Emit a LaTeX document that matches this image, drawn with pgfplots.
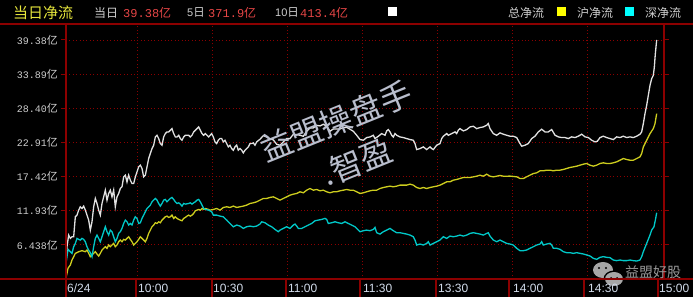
\documentclass[border=0pt]{standalone}
\usepackage{fontspec}
\setmainfont{Liberation Sans}
\newfontfamily\cjk{Noto Sans CJK SC}
\newfontfamily\mono{Liberation Mono}
\usepackage{pgfplots}
\pgfplotsset{compat=1.18}
\definecolor{gridred}{RGB}{140,0,0}
\definecolor{lwhite}{RGB}{225,225,225}
\definecolor{lyellow}{RGB}{205,205,30}
\definecolor{lcyan}{RGB}{0,200,200}
\definecolor{sqyellow}{RGB}{255,255,0}
\definecolor{sqcyan}{RGB}{0,255,255}
\definecolor{valred}{RGB}{230,70,70}
\definecolor{hdryellow}{RGB}{230,230,60}
\definecolor{txtgray}{RGB}{205,205,205}
\definecolor{wmgray}{RGB}{185,190,205}
\definecolor{xlab}{RGB}{210,220,235}
\newcommand\yl[1]{{\fontsize{10}{10}\selectfont\mono #1}{\fontsize{11}{11}\selectfont\cjk 亿}}
\newcommand\hv[1]{{\fontsize{12}{12}\selectfont\mono #1}{\fontsize{12}{12}\selectfont\cjk 亿}}
\begin{document}
\begin{tikzpicture}[x=1pt,y=1pt]
\fill[black] (0,0) rectangle (693,297);
\useasboundingbox (0,0) rectangle (693,297);
\clip (0,0) rectangle (693,297);
% wechat icon (behind labels)
\fill[gray!70] (603,27) ellipse (10 and 8);
\fill[black] (614,18) ellipse (10.5 and 8.5);
\fill[gray!70] (614,18) ellipse (9 and 7);
\fill[black] (599,29) circle (1.2); \fill[black] (606,29) circle (1.2);
\fill[black] (611,19) circle (1); \fill[black] (617,19) circle (1);
\begin{axis}[
  at={(66pt,18pt)}, anchor=south west, width=598pt, height=255pt, scale only axis,
  xmin=1.6, xmax=240.8, ymin=0.948, ymax=41.95,
  axis line style={draw=none},
  no marks,
  xtick={1.6,30,60,90,120,150,180,210},
  xticklabels={6/24,10:00,10:30,11:00,11:30,13:30,14:00,14:30},
  extra x ticks={238.4}, extra x tick labels={15:00}, extra x tick style={grid=none},
  ytick={6.438,11.93,17.42,22.91,28.40,33.89,39.38},
  yticklabels={\yl{6.438},\yl{11.93},\yl{17.42},\yl{22.91},\yl{28.40},\yl{33.89},\yl{39.38}},
  grid=major,
  major grid style={draw=gridred, line width=0.9pt, dash pattern=on 1pt off 2.4pt},
  xtick style={draw=none},
  ytick style={draw=gridred, line width=1pt},
  tick align=outside, major tick length=5pt,
  xticklabel style={anchor=west, xshift=1pt, yshift=-4pt, font=\fontsize{12}{12}\selectfont, text=xlab, inner sep=0pt},
  yticklabel style={anchor=east, inner sep=0pt, xshift=-3pt, text=txtgray},
]
\addplot[lyellow, line width=1.3pt] coordinates {
(1.6,1.10) (2.4,2.66) (3.33,3.20) (4.0,4.00) (4.67,4.53) (5.33,5.07) (6.67,5.34) (8.0,5.50) (9.33,5.34) (10.0,5.60) (10.67,5.07) (11.33,4.53) (12.0,4.80) (12.67,5.07) (13.33,5.34) (14.0,4.96) (14.67,4.64) (15.33,5.07) (16.0,5.60) (16.67,5.87) (17.33,6.14) (18.0,5.87) (18.67,6.41) (19.33,6.14) (20.0,6.41) (20.67,6.67) (21.33,6.14) (22.0,6.41) (22.67,6.94) (23.33,7.21) (24.0,6.94) (24.67,7.32) (25.33,7.21) (26.0,7.48) (26.67,7.74) (27.33,7.32) (28.0,6.94) (28.67,6.41) (29.33,6.67) (30.0,6.94) (30.67,7.32) (31.33,7.74) (32.0,7.48) (32.67,7.21) (33.33,6.94) (34.0,7.48) (34.67,8.28) (35.33,8.81) (36.0,9.35) (36.67,9.62) (37.33,9.99) (38.0,9.88) (38.67,10.15) (39.33,9.99) (40.0,10.42) (40.67,10.69) (41.33,10.95) (42.0,11.06) (42.67,10.85) (43.33,10.95) (44.0,11.22) (44.67,10.69) (45.33,10.95) (46.0,10.69) (46.67,10.53) (47.33,10.42) (48.0,10.31) (48.67,10.69) (49.33,10.85) (50.0,11.06) (50.67,11.22) (51.33,11.06) (52.0,11.22) (52.67,11.49) (53.33,11.92) (54.0,12.02) (54.67,12.13) (55.33,12.02) (56.0,12.29) (56.67,12.13) (57.33,12.29) (58.67,12.13)
(59.2,12.02) (60.53,12.13) (61.87,12.29) (63.2,12.02) (64.53,12.45) (65.87,12.56) (67.2,12.45) (68.53,12.67) (69.87,12.45) (71.2,12.56) (72.53,12.67) (73.87,12.83) (75.2,13.09) (76.53,13.20) (77.87,13.36) (79.2,13.63) (80.53,13.90) (81.87,13.90) (83.2,14.06) (84.53,14.16) (85.87,13.90) (87.2,13.63) (88.53,13.90) (89.87,14.16) (91.2,14.43) (92.53,14.59) (93.87,14.70) (95.2,14.97) (96.53,14.81) (97.87,15.23) (99.2,15.50) (100.53,15.23) (101.87,15.34) (103.2,15.13) (104.53,15.23) (105.87,14.97) (107.2,14.81) (108.53,14.97) (109.87,14.97) (111.2,15.13) (112.53,15.23) (113.87,15.34) (115.2,15.23) (116.53,15.23) (117.87,14.97)
(119.2,14.70) (120.53,14.81) (121.87,14.97) (123.2,15.13) (124.53,15.23) (125.87,15.23) (127.2,15.50) (128.53,15.66) (129.87,15.77) (131.2,15.88) (132.53,15.77) (133.87,15.88) (135.2,16.04) (136.53,16.04) (137.87,16.04) (139.2,16.20) (140.53,16.04) (141.87,15.66) (143.2,15.50) (144.53,15.66) (145.87,15.50) (147.2,15.66) (148.53,15.77) (149.87,15.88) (151.2,16.04) (152.53,16.30) (153.87,16.57) (155.2,16.57) (156.53,16.84) (157.87,16.95) (159.2,17.11) (160.53,17.27) (161.87,17.27) (163.2,17.27) (164.53,17.37) (165.87,17.48) (167.2,17.64) (168.53,17.48) (169.87,17.80) (171.2,17.48) (172.53,17.37) (173.87,17.48) (175.2,17.59) (176.53,17.48) (177.87,17.48)
(179.2,17.49) (181.87,17.38) (183.2,17.11) (184.53,17.11) (185.87,17.38) (187.2,17.65) (188.53,17.91) (189.87,18.02) (191.2,18.34) (192.53,18.34) (193.87,18.45) (195.2,18.45) (196.53,18.34) (197.87,18.45) (199.2,18.45) (200.53,18.56) (201.87,18.72) (203.2,18.88) (204.53,18.98) (205.87,19.09) (207.2,19.25) (208.53,19.41) (209.87,19.52) (211.2,19.25) (212.53,19.09) (213.87,19.25) (215.2,19.52) (216.53,19.63) (217.87,19.52) (219.2,19.52) (220.53,19.63) (221.87,19.79) (223.2,20.05) (224.53,20.32) (225.87,20.16) (227.2,20.05) (228.53,20.05) (229.87,20.32) (231.2,20.59) (231.87,21.12) (232.53,22.19) (233.87,23.26) (235.2,24.33) (236.53,25.14) (237.2,25.94) (237.87,27.54)
};
\addplot[lcyan, line width=1.3pt] coordinates {
(1.6,3.46) (2.0,4.53) (2.4,5.71) (3.33,5.34) (4.0,5.07) (4.67,6.14) (5.33,6.67) (6.0,7.48) (6.67,7.32) (7.33,7.21) (8.0,7.48) (8.67,7.32) (9.33,6.94) (10.0,6.14) (10.67,5.60) (11.33,5.18) (12.0,4.53) (12.67,6.14) (13.33,7.48) (14.0,8.01) (14.67,7.48) (15.33,6.94) (16.0,7.74) (16.67,8.55) (17.33,9.35) (18.0,8.55) (18.67,8.01) (19.33,8.81) (20.0,8.55) (20.67,7.74) (21.33,6.94) (22.0,7.48) (22.67,8.28) (23.33,8.55) (24.0,9.08) (24.67,9.88) (25.33,10.42) (26.0,10.15) (26.67,9.62) (27.33,9.88) (28.0,9.62) (28.67,10.42) (29.33,10.95) (30.0,10.69) (30.67,9.88) (31.33,9.99) (32.0,10.69) (32.67,11.22) (33.33,11.76) (34.0,12.29) (34.67,12.56) (35.33,12.83) (36.0,13.36) (36.67,13.63) (37.33,13.90) (38.0,13.63) (38.67,13.09) (39.33,12.67) (40.0,13.09) (40.67,13.63) (41.33,13.74) (42.0,13.36) (42.67,13.63) (43.33,13.90) (44.0,14.06) (44.67,13.74) (45.33,13.36) (46.0,13.09) (46.67,13.20) (47.33,12.99) (48.0,12.67) (48.67,13.09) (49.33,12.99) (50.67,13.09) (51.33,13.20) (52.0,12.99) (52.67,13.20) (53.33,13.36) (54.0,13.63) (54.67,13.74) (55.33,13.36) (56.0,12.83) (56.67,12.29) (57.33,12.13) (58.67,12.02)
(59.87,11.76) (60.53,11.22) (61.87,11.22) (63.2,11.06) (64.53,10.95) (65.87,10.42) (67.2,9.88) (68.53,9.35) (69.87,9.62) (71.2,9.46) (72.53,9.08) (73.87,9.35) (75.2,9.46) (76.53,9.35) (77.87,9.46) (79.2,9.78) (79.87,10.15) (81.2,9.99) (82.53,9.62) (83.87,9.35) (85.2,8.92) (86.53,8.55) (87.2,8.81) (88.53,9.08) (89.87,9.35) (91.2,9.08) (92.53,9.62) (93.2,9.78) (93.87,9.46) (94.53,9.08) (95.87,9.08) (97.2,9.35) (98.53,9.62) (99.87,9.88) (101.2,10.31) (102.53,10.42) (103.87,10.53) (105.2,10.69) (105.87,10.53) (106.53,9.88) (107.87,9.99) (109.2,10.15) (110.53,9.99) (111.87,9.88) (113.2,10.15) (114.53,9.88) (115.87,9.62) (117.2,9.35) (118.53,8.81)
(119.2,8.55) (120.53,8.71) (121.87,8.81) (123.2,8.71) (124.53,8.92) (125.2,9.24) (125.87,8.39) (127.2,8.17) (128.53,8.55) (129.87,8.81) (131.2,9.08) (132.53,8.71) (133.87,8.39) (135.2,8.39) (136.53,8.28) (137.87,8.17) (139.2,8.01) (140.53,7.74) (141.2,7.21) (141.87,6.41) (143.2,6.57) (144.53,6.41) (145.87,6.67) (146.53,6.94) (147.2,6.41) (148.53,6.67) (149.87,6.94) (151.2,7.21) (152.53,7.74) (153.87,7.48) (155.2,7.85) (156.53,7.74) (157.87,7.85) (159.2,8.01) (160.53,7.85) (161.87,8.01) (163.2,8.28) (164.53,8.39) (165.87,8.28) (167.2,8.17) (168.53,8.01) (169.87,8.28) (170.53,8.39) (171.2,7.85) (172.53,7.21) (173.87,6.94) (175.2,7.21) (176.53,6.94) (177.87,6.67)
(179.2,6.57) (180.53,6.41) (181.87,5.88) (183.2,5.50) (184.53,5.50) (185.87,5.61) (187.2,5.88) (188.53,6.14) (189.87,6.41) (191.2,6.57) (191.87,6.95) (192.53,6.41) (193.87,6.57) (195.2,6.68) (195.87,6.41) (196.53,5.88) (197.87,5.88) (199.2,5.72) (200.53,5.34) (201.87,5.18) (203.2,5.18) (204.53,5.07) (205.87,5.18) (207.2,5.07) (208.53,4.97) (209.87,4.81) (211.2,4.65) (212.53,4.27) (213.87,4.11) (215.2,4.43) (216.53,4.54) (217.87,4.43) (219.2,4.38) (220.53,4.00) (221.87,3.90) (223.2,4.00) (224.53,3.90) (225.87,3.90) (227.2,4.00) (228.53,3.90) (229.87,3.84) (231.2,4.00) (231.87,4.54) (232.53,5.34) (233.87,6.68) (235.2,8.02) (235.87,8.82) (236.8,9.35) (237.47,10.69) (237.87,11.60)
};
\addplot[lwhite, line width=1.3pt] coordinates {
(1.6,4.53) (2.0,6.14) (2.67,8.01) (3.33,7.48) (4.0,7.74) (4.67,7.74) (5.33,10.95) (6.0,11.22) (6.67,12.02) (7.33,12.56) (8.0,12.29) (8.67,12.67) (9.33,12.02) (10.0,11.22) (10.67,10.42) (11.33,8.81) (12.0,10.15) (12.67,12.56) (13.33,13.90) (14.0,13.09) (14.67,12.02) (15.33,11.22) (16.0,13.09) (16.67,14.16) (17.33,15.23) (18.0,13.63) (18.67,14.70) (19.33,15.23) (20.0,14.16) (20.67,15.23) (21.33,12.56) (22.0,14.16) (22.67,14.70) (23.33,15.50) (24.0,15.77) (24.67,17.37) (25.33,17.64) (26.0,16.57) (26.67,17.64) (27.33,16.84) (28.0,16.30) (28.67,16.30) (29.33,17.37) (30.0,18.18) (30.67,18.98) (31.33,19.25) (32.0,18.71) (32.67,17.37) (33.33,17.64) (34.0,18.98) (34.67,20.32) (35.33,21.12) (36.0,21.92) (36.67,22.46) (37.33,23.79) (38.0,24.06) (38.67,23.53) (39.33,22.72) (40.0,22.46) (40.67,23.79) (41.33,24.33) (42.0,24.60) (42.67,24.60) (43.33,24.86) (44.0,25.13) (44.67,24.33) (45.33,23.79) (46.0,23.79) (46.67,24.06) (47.33,23.53) (48.0,23.26) (48.67,23.79) (49.33,24.06) (50.67,24.06) (51.33,23.79) (52.0,24.06) (52.67,24.60) (53.33,24.86) (54.0,25.13) (54.67,25.40) (55.33,24.86) (56.0,24.33) (56.67,24.06) (57.33,24.33) (58.0,24.06) (58.67,23.79)
(59.87,24.33) (60.53,23.79) (61.2,22.99) (61.87,22.72) (62.53,23.26) (63.2,23.53) (63.87,23.53) (64.53,22.99) (65.2,23.26) (65.87,22.72) (66.53,22.19) (67.2,22.46) (67.87,21.92) (68.53,21.66) (69.2,22.19) (69.87,22.46) (70.53,21.66) (71.2,21.92) (71.87,21.66) (72.53,21.23) (73.2,21.66) (73.87,21.92) (74.53,22.19) (75.2,22.72) (75.87,22.72) (76.53,22.83) (77.2,22.46) (77.87,22.99)
(79.2,23.42) (80.53,24.00) (81.87,23.79) (83.2,23.52) (84.53,23.31) (85.87,22.61) (87.2,22.45) (88.53,22.99) (89.87,23.52) (91.2,23.52) (92.53,24.22) (93.87,24.17) (95.2,24.06) (96.53,23.90) (97.87,24.70) (99.2,25.24) (100.53,25.24) (101.87,25.66) (103.2,25.56) (104.53,25.83) (105.87,25.50) (107.2,24.70) (108.53,25.08) (109.87,25.08) (111.2,25.08) (112.53,25.29) (113.87,25.34) (115.2,25.02) (116.53,24.70) (117.87,24.06)
(119.2,23.37) (120.53,23.26) (121.87,23.69) (123.2,23.79) (124.53,24.06) (125.2,23.53) (126.53,23.90) (127.87,24.33) (129.2,24.06) (129.87,24.76) (130.53,24.97) (131.2,24.60) (131.87,24.06) (132.53,23.79) (133.2,24.33) (133.87,24.06) (135.2,23.79) (136.53,23.69) (137.87,23.53) (139.2,23.37) (140.53,23.26) (141.2,22.72) (141.87,21.76) (143.2,21.92) (144.53,22.19) (145.87,21.76) (147.2,22.19) (147.87,21.92) (148.53,21.76) (149.87,22.46) (151.2,22.72) (151.87,23.53) (152.53,23.90) (153.87,24.33) (154.53,24.06) (155.87,24.33) (157.2,24.60) (157.87,24.33) (158.53,24.87) (159.2,25.13) (160.53,24.76) (161.87,24.97) (163.2,25.40) (164.53,25.51) (165.87,25.13) (167.2,25.30) (168.53,25.40) (169.87,25.67) (170.53,25.94) (171.2,25.13) (172.53,24.33) (173.87,24.06) (175.2,24.44) (176.53,24.23) (177.87,24.06)
(179.2,23.91) (180.53,23.91) (181.87,23.69) (183.2,22.73) (183.87,22.30) (185.2,22.46) (186.53,22.73) (187.87,23.53) (189.2,23.91) (190.53,24.60) (191.87,25.03) (193.2,24.60) (194.53,24.60) (195.87,24.98) (197.2,24.07) (198.53,23.80) (199.87,23.69) (201.2,23.69) (202.53,23.53) (203.87,23.80) (205.2,23.69) (206.53,23.91) (207.87,24.23) (209.2,23.80) (210.53,23.69) (211.87,23.26) (213.2,23.00) (214.13,23.10) (215.2,23.69) (216.53,23.91) (217.87,23.69) (219.2,23.53) (220.53,23.37) (221.87,23.80) (223.2,23.69) (224.53,23.91) (225.87,23.69) (227.2,23.80) (228.53,23.69) (229.87,23.91) (231.2,24.23) (231.87,24.60) (232.53,25.94) (233.2,27.54) (233.87,28.88) (234.53,30.49) (235.2,32.09) (235.87,33.16) (236.53,33.70) (236.93,35.03) (237.33,37.17) (237.87,39.38)
};
\end{axis}
% frame
\draw[gridred, line width=1.2pt] (0,273) -- (693,273);
\draw[gridred, line width=1.2pt] (0,18) -- (693,18);
\draw[gridred, line width=1.2pt] (66,0) -- (66,273);
\draw[gridred, line width=1.2pt] (664,18) -- (664,273);
\foreach \sx in {136,212,286,360,436,509,584,658} \draw[gridred, line width=1.2pt] (\sx,0) -- (\sx,18);
% header
\node[anchor=west, inner sep=0pt, text=hdryellow] at (13,284.5) {\fontsize{15}{15}\selectfont\cjk 当日净流};
\node[anchor=west, inner sep=0pt, text=txtgray] at (94,284.5) {\fontsize{12}{12}\selectfont\cjk 当日};
\node[anchor=west, inner sep=0pt, text=valred] at (123,284.5) {\hv{39.38}};
\node[anchor=west, inner sep=0pt, text=txtgray] at (187,284.5) {{\fontsize{11}{11}\selectfont 5}{\fontsize{11.5}{11.5}\selectfont\cjk 日}};
\node[anchor=west, inner sep=0pt, text=valred] at (208,284.5) {\hv{371.9}};
\node[anchor=west, inner sep=0pt, text=txtgray] at (275,284.5) {{\fontsize{11}{11}\selectfont 10}{\fontsize{11.5}{11.5}\selectfont\cjk 日}};
\node[anchor=west, inner sep=0pt, text=valred] at (300,284.5) {\hv{413.4}};
% legend
\fill[white] (388,281) rectangle (397,290);
\fill[sqyellow] (557,281) rectangle (566,290);
\fill[sqcyan] (625,281) rectangle (634,290);
\node[anchor=west, inner sep=0pt, text=txtgray] at (508,284.5) {\fontsize{12}{12}\selectfont\cjk 总净流};
\node[anchor=west, inner sep=0pt, text=txtgray] at (577,284.5) {\fontsize{12}{12}\selectfont\cjk 沪净流};
\node[anchor=west, inner sep=0pt, text=txtgray] at (645,284.5) {\fontsize{12}{12}\selectfont\cjk 深净流};
% watermarks
\node[rotate=22, inner sep=0pt, text=wmgray] at (336,176) {\fontsize{32}{32}\selectfont\cjk 益盟操盘手};
\node[rotate=22, inner sep=0pt, text=wmgray] at (357,135) {\fontsize{32}{32}\selectfont\cjk .智盈};
\node[anchor=west, inner sep=0pt, text=gray!80] at (625,25) {\fontsize{14}{14}\selectfont\cjk 益盟好股};
\end{tikzpicture}
\end{document}
